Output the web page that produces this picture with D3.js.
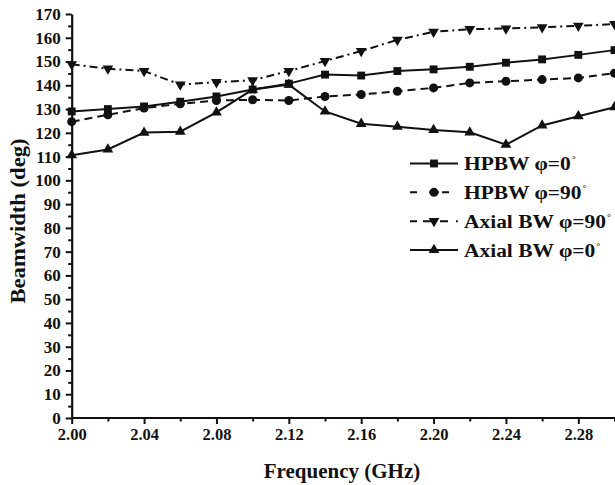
<!DOCTYPE html>
<html>
<head>
<meta charset="utf-8">
<script src="https://cdn.jsdelivr.net/npm/d3@7"></script>
<style>
  body { margin: 0; background: #fff; }
  svg { display: block; }
  text { font-family: "Liberation Serif", "Times New Roman", serif; font-weight: bold; fill: #111; }
</style>
</head>
<body>
<svg id="chart" width="615" height="485"></svg>
<script>
// Frequency sweep (GHz)
const freq = [2.00, 2.02, 2.04, 2.06, 2.08, 2.10, 2.12, 2.14, 2.16, 2.18, 2.20, 2.22, 2.24, 2.26, 2.28, 2.30];

// Beamwidths (deg)
const hpbwPhi0   = [129.0, 130.0, 131.1, 133.1, 135.3, 138.2, 140.7, 144.5, 144.1, 146.0, 146.7, 147.8, 149.5, 150.9, 152.8, 154.8];
const hpbwPhi90  = [124.7, 127.6, 130.4, 132.2, 133.6, 133.9, 133.6, 135.3, 136.1, 137.5, 138.9, 141.0, 141.7, 142.4, 143.1, 145.1];
const axialPhi90 = [148.8, 147.0, 146.0, 140.3, 141.3, 142.1, 146.0, 150.2, 154.4, 159.1, 162.5, 163.6, 163.9, 164.4, 165.0, 165.8];
const axialPhi0  = [110.6, 113.0, 120.1, 120.5, 128.6, 138.2, 140.3, 129.0, 123.8, 122.6, 121.2, 120.2, 115.0, 123.1, 127.0, 130.8];

// Axis ticks
const xMajorTicks = [2.00, 2.04, 2.08, 2.12, 2.16, 2.20, 2.24, 2.28];
const xMinorTicks = [2.02, 2.06, 2.10, 2.14, 2.18, 2.22, 2.26, 2.30];
const yMajorTicks = [0, 10, 20, 30, 40, 50, 60, 70, 80, 90, 100, 110, 120, 130, 140, 150, 160, 170];
const yMinorTicks = [5, 15, 25, 35, 45, 55, 65, 75, 85, 95, 105, 115, 125, 135, 145, 155, 165];

const seriesNames = ["HPBW \u03C6=0", "HPBW \u03C6=90", "Axial BW \u03C6=90", "Axial BW \u03C6=0"];

// Line styles: plot dash pattern, plus the legend sample pattern and length
const series = [
  { name: seriesNames[0], values: hpbwPhi0,   symbol: d3.symbolSquare,   size: 62, rotate: 0,
    dash: null, legendDash: null, legendLen: 48 },
  { name: seriesNames[1], values: hpbwPhi90,  symbol: d3.symbolCircle,   size: 64, rotate: 0,
    dash: "8,5", legendDash: "7,12,10,3,7", legendLen: 39 },
  { name: seriesNames[2], values: axialPhi90, symbol: d3.symbolTriangle, size: 50, rotate: 180,
    dash: "8,4,2,4", legendDash: "7,6,11,6,8,8,1.8,20", legendLen: 48 },
  { name: seriesNames[3], values: axialPhi0,  symbol: d3.symbolTriangle, size: 50, rotate: 0,
    dash: null, legendDash: null, legendLen: 48 }
];

const svg = d3.select("#chart");

const x = d3.scaleLinear().domain([2.00, 2.30]).range([71.7, 614.5]);
const y = d3.scaleLinear().domain([0, 170]).range([418, 14]);

// Minor ticks
svg.append("g")
  .attr("transform", `translate(0,${y(0)})`)
  .call(d3.axisBottom(x).tickValues(xMinorTicks).tickSize(3.5).tickSizeOuter(0).tickFormat(""))
  .call(g => g.select(".domain").remove())
  .call(g => g.selectAll("line").attr("stroke", "#111").attr("stroke-width", 2));

svg.append("g")
  .attr("transform", `translate(${x(2.00)},0)`)
  .call(d3.axisLeft(y).tickValues(yMinorTicks).tickSize(3.5).tickSizeOuter(0).tickFormat(""))
  .call(g => g.select(".domain").remove())
  .call(g => g.selectAll("line").attr("stroke", "#111").attr("stroke-width", 2));

// Major ticks and labels
const xAxis = svg.append("g")
  .attr("transform", `translate(0,${y(0)})`)
  .call(d3.axisBottom(x).tickValues(xMajorTicks).tickSize(6).tickSizeOuter(0).tickPadding(4).tickFormat(d3.format(".2f")));
xAxis.select(".domain").attr("stroke", "#111").attr("stroke-width", 2.2)
  .attr("d", `M${x(2.00)},0H615`);
xAxis.selectAll("line").attr("stroke", "#111").attr("stroke-width", 2);
xAxis.selectAll("text").attr("font-size", 16.5).attr("fill", "#111")
  .attr("font-family", "\"Liberation Serif\", serif").attr("font-weight", "bold");

const yAxis = svg.append("g")
  .attr("transform", `translate(${x(2.00)},0)`)
  .call(d3.axisLeft(y).tickValues(yMajorTicks).tickSize(6).tickSizeOuter(0).tickPadding(5).tickFormat(d3.format("d")));
yAxis.select(".domain").attr("stroke", "#111").attr("stroke-width", 2.2);
yAxis.selectAll("line").attr("stroke", "#111").attr("stroke-width", 2);
yAxis.selectAll("text").attr("font-size", 17).attr("fill", "#111")
  .attr("font-family", "\"Liberation Serif\", serif").attr("font-weight", "bold");

// Axis titles
svg.append("text")
  .attr("x", 342).attr("y", 478)
  .attr("text-anchor", "middle")
  .attr("font-size", 21)
  .text("Frequency (GHz)");

svg.append("text")
  .attr("transform", "translate(25,221) rotate(-90)")
  .attr("text-anchor", "middle")
  .attr("font-size", 21)
  .attr("textLength", 165)
  .attr("lengthAdjust", "spacingAndGlyphs")
  .text("Beamwidth (deg)");

// Series lines and markers
const line = d3.line()
  .x((d, i) => x(freq[i]))
  .y(d => y(d));

series.forEach(s => {
  svg.append("path")
    .datum(s.values)
    .attr("fill", "none")
    .attr("stroke", "#111")
    .attr("stroke-width", 2)
    .attr("stroke-dasharray", s.dash)
    .attr("d", line);

  svg.append("g").selectAll("path")
    .data(s.values)
    .join("path")
    .attr("d", d3.symbol().type(s.symbol).size(s.size))
    .attr("transform", (d, i) => `translate(${x(freq[i])},${y(d)}) rotate(${s.rotate})`)
    .attr("fill", "#111");
});

// Legend
const legend = svg.append("g");
const legendY = d3.scaleLinear().domain([0, 3]).range([163.5, 250]);
series.forEach((s, i) => {
  const cy = legendY(i);
  legend.append("line")
    .attr("x1", 410).attr("x2", 410 + s.legendLen)
    .attr("y1", cy).attr("y2", cy)
    .attr("stroke", "#111").attr("stroke-width", 2)
    .attr("stroke-dasharray", s.legendDash);
  legend.append("path")
    .attr("d", d3.symbol().type(s.symbol).size(s.size))
    .attr("transform", `translate(434,${cy}) rotate(${s.rotate})`)
    .attr("fill", "#111");
  const t = legend.append("text")
    .attr("transform", `translate(464,${cy + 6.5}) scale(1.1,1)`)
    .attr("font-size", 19.5);
  t.append("tspan").text(s.name);
  t.append("tspan").attr("font-size", 9).attr("dy", -8).attr("dx", 1).text("\u00B0");
});
</script>
</body>
</html>
